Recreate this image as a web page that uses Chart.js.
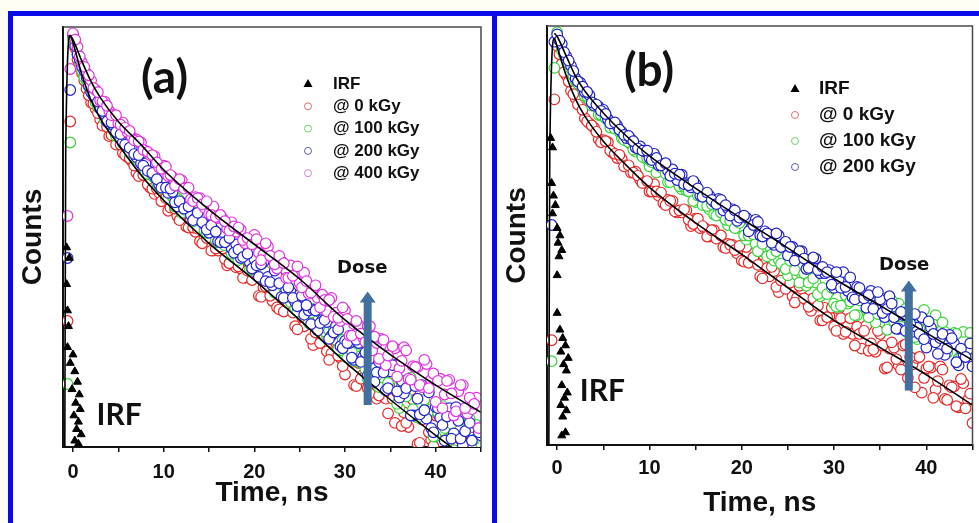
<!DOCTYPE html>
<html>
<head>
<meta charset="utf-8">
<script src="https://cdn.jsdelivr.net/npm/chart.js@4.4.1/dist/chart.umd.min.js"></script>
<style>
  html, body { margin: 0; padding: 0; }
  body { width: 979px; height: 523px; position: relative; overflow: hidden; background: #fffef4; }
  .sheet { position: absolute; left: 13px; top: 16px; right: 0; bottom: 0; background: #fff; }
  .rule { position: absolute; background: #0a0ae6; }
  canvas { position: absolute; }
</style>
</head>
<body>
<div class="sheet"></div>
<div class="rule" style="left:8px;top:11px;width:971px;height:5px"></div>
<div class="rule" style="left:8px;top:11px;width:5px;height:512px"></div>
<div class="rule" style="left:492px;top:11px;width:5px;height:512px"></div>
<canvas id="chartA" width="477" height="507" style="left:14px;top:16px"></canvas>
<canvas id="chartB" width="482" height="507" style="left:497px;top:16px"></canvas>
<script>
// time channels (ns): main channels and the channels in between
const timeNs = [-0.6, -0.3, 0, 0.5, 1, 1.5, 2, 2.5, 3, 3.5, 4, 4.5, 5, 5.5, 6, 6.5, 7, 7.5, 8, 8.5, 9, 9.5,
  10, 10.5, 11, 11.5, 12, 12.5, 13, 13.5, 14, 14.5, 15, 15.5, 16, 16.5, 17, 17.5, 18, 18.5, 19, 19.5,
  20, 20.5, 21, 21.5, 22, 22.5, 23, 23.5, 24, 24.5, 25, 25.5, 26, 26.5, 27, 27.5, 28, 28.5, 29, 29.5,
  30, 30.5, 31, 31.5, 32, 32.5, 33, 33.5, 34, 34.5, 35, 35.5, 36, 36.5, 37, 37.5, 38, 38.5, 39, 39.5,
  40, 40.5, 41, 41.5, 42, 42.5, 43, 43.5, 44, 44.5, 45];
const timeNsMid = [0.25, 0.75, 1.25, 1.75, 2.25, 2.75, 3.25, 3.75, 4.25, 4.75, 5.25, 5.75, 6.25, 6.75, 7.25, 7.75, 8.25, 8.75, 9.25, 9.75,
  10.25, 10.75, 11.25, 11.75, 12.25, 12.75, 13.25, 13.75, 14.25, 14.75, 15.25, 15.75, 16.25, 16.75, 17.25, 17.75, 18.25, 18.75, 19.25, 19.75,
  20.25, 20.75, 21.25, 21.75, 22.25, 22.75, 23.25, 23.75, 24.25, 24.75, 25.25, 25.75, 26.25, 26.75, 27.25, 27.75, 28.25, 28.75, 29.25, 29.75,
  30.25, 30.75, 31.25, 31.75, 32.25, 32.75, 33.25, 33.75, 34.25, 34.75, 35.25, 35.75, 36.25, 36.75, 37.25, 37.75, 38.25, 38.75, 39.25, 39.75,
  40.25, 40.75, 41.25, 41.75, 42.25, 42.75, 43.25, 43.75, 44.25, 44.75];

const timeTicks = [0, 5, 10, 15, 20, 25, 30, 35, 40, 45];
const timeTickLabels = ['0', '', '10', '', '20', '', '30', '', '40', ''];

// panel (a): log10(counts)
const logA0kGy = [1.2, 3.1, 3.91, 3.69, 3.56, 3.41, 3.28, 3.22, 3.12, 3.09, 2.96, 2.96, 2.92, 2.80, 2.76, 2.72, 2.61, 2.60, 2.58, 2.47, 2.41, 2.42,
  2.36, 2.25, 2.33, 2.20, 2.21, 2.10, 2.17, 2.05, 1.96, 2.00, 1.99, 1.87, 1.87, 1.89, 1.73, 1.80, 1.71, 1.70, 1.61, 1.68,
  1.64, 1.44, 1.52, 1.53, 1.39, 1.33, 1.48, 1.31, 1.33, 1.15, 1.29, 1.15, 1.20, 0.97, 1.07, 1.12, 0.91, 0.89, 0.99, 0.85,
  0.69, 0.84, 0.59, 0.80, 0.69, 0.56, 0.76, 0.46, 0.57, 0.46, 0.57, 0.23, 0.60, 0.33, 0.19, 0.45, 0.03, 0.26, 0.28, 0.07,
  0.30, -0.09, 0.07, 0.16, -0.25, 0.03, 0.05, -0.2, 0.09, -0.3, -0.14];
const logA0kGyMid = [3.80, 3.61, 3.49, 3.35, 3.27, 3.18, 3.06, 3.05, 2.97, 2.88, 2.88, 2.78, 2.75, 2.68, 2.58, 2.59, 2.50, 2.46, 2.46, 2.34,
  2.37, 2.28, 2.27, 2.16, 2.23, 2.09, 2.09, 2.08, 1.94, 1.99, 1.87, 1.89, 1.91, 1.79, 1.75, 1.81, 1.72, 1.61, 1.68, 1.59,
  1.65, 1.43, 1.53, 1.44, 1.54, 1.31, 1.29, 1.37, 1.28, 1.12, 1.24, 1.25, 1.03, 1.09, 0.99, 1.06, 0.83, 1.02, 0.87, 0.77,
  0.91, 0.81, 0.58, 0.65, 0.82, 0.51, 0.64, 0.49, 0.64, 0.32, 0.46, 0.52, 0.20, 0.23, 0.54, 0.31, 0.04, 0.34, 0.14, 0.01,
  0.31, 0.16, -0.21, 0.17, -0.07, 0.07, -0.30, -0.09, 0.05, -0.32];
const logA100kGy = [0.6, 2.9, 3.89, 3.74, 3.58, 3.49, 3.38, 3.28, 3.24, 3.12, 3.09, 3.01, 2.98, 2.89, 2.88, 2.80, 2.74, 2.72, 2.62, 2.61, 2.56, 2.49,
  2.50, 2.37, 2.38, 2.37, 2.23, 2.27, 2.25, 2.16, 2.19, 2.06, 2.07, 2.05, 1.95, 2.01, 1.93, 1.84, 1.88, 1.81, 1.83, 1.69,
  1.76, 1.77, 1.60, 1.60, 1.63, 1.46, 1.52, 1.56, 1.38, 1.32, 1.40, 1.32, 1.18, 1.31, 1.16, 1.20, 1.06, 1.18, 1.02, 0.92,
  1.00, 1.03, 0.82, 0.86, 0.96, 0.65, 0.84, 0.68, 0.72, 0.56, 0.78, 0.66, 0.37, 0.53, 0.58, 0.36, 0.28, 0.57, 0.31, 0.36,
  0.10, 0.38, 0.18, 0.31, -0.03, 0.19, 0.30, 0.00, 0.02, 0.21, 0.03];
const logA100kGyMid = [3.83, 3.67, 3.52, 3.43, 3.36, 3.24, 3.19, 3.10, 3.07, 2.96, 2.94, 2.90, 2.80, 2.76, 2.76, 2.68, 2.60, 2.59, 2.52, 2.46,
  2.48, 2.41, 2.29, 2.35, 2.26, 2.27, 2.15, 2.17, 2.17, 2.04, 2.06, 1.97, 2.03, 1.92, 1.94, 1.89, 1.78, 1.84, 1.78, 1.69,
  1.78, 1.64, 1.67, 1.61, 1.47, 1.59, 1.43, 1.43, 1.50, 1.29, 1.38, 1.27, 1.28, 1.15, 1.28, 1.10, 1.11, 1.12, 0.93, 1.02,
  0.85, 0.91, 0.99, 0.80, 0.74, 0.90, 0.77, 0.57, 0.76, 0.61, 0.74, 0.41, 0.59, 0.48, 0.66, 0.30, 0.31, 0.45, 0.34, 0.10,
  0.33, 0.39, 0.07, 0.22, 0.10, 0.26, -0.09, 0.27, 0.07, -0.06];
const logA200kGy = [1.8, 3.4, 3.93, 3.74, 3.62, 3.52, 3.38, 3.32, 3.22, 3.17, 3.08, 3.06, 2.99, 2.90, 2.87, 2.84, 2.76, 2.70, 2.70, 2.62, 2.58, 2.50,
  2.51, 2.42, 2.43, 2.29, 2.32, 2.32, 2.21, 2.18, 2.21, 2.12, 2.04, 2.07, 1.96, 2.02, 1.95, 1.89, 1.93, 1.80, 1.83, 1.76,
  1.79, 1.62, 1.76, 1.62, 1.54, 1.63, 1.43, 1.50, 1.48, 1.38, 1.45, 1.26, 1.30, 1.31, 1.11, 1.21, 1.19, 1.06, 1.15, 0.96,
  1.01, 0.99, 0.83, 0.99, 0.86, 0.68, 0.85, 0.71, 0.81, 0.54, 0.72, 0.78, 0.47, 0.51, 0.62, 0.30, 0.46, 0.59, 0.27, 0.18,
  0.38, 0.28, 0.06, 0.37, 0.13, 0.25, 0.02, 0.32, 0.06, -0.09, 0.11];
const logA200kGyMid = [3.82, 3.69, 3.58, 3.44, 3.35, 3.29, 3.20, 3.10, 3.09, 3.00, 2.98, 2.88, 2.85, 2.79, 2.78, 2.68, 2.63, 2.61, 2.55, 2.47,
  2.47, 2.46, 2.33, 2.34, 2.27, 2.29, 2.16, 2.23, 2.14, 2.07, 2.11, 2.05, 1.95, 1.95, 1.99, 1.85, 1.88, 1.81, 1.84, 1.70,
  1.73, 1.74, 1.58, 1.57, 1.68, 1.56, 1.42, 1.52, 1.42, 1.34, 1.44, 1.35, 1.17, 1.30, 1.18, 1.21, 1.03, 1.09, 1.12, 0.94,
  0.99, 0.85, 1.02, 0.81, 0.90, 0.84, 0.62, 0.81, 0.71, 0.56, 0.78, 0.53, 0.63, 0.56, 0.30, 0.58, 0.31, 0.35, 0.52, 0.14,
  0.37, 0.21, 0.29, 0.08, 0.38, 0.08, 0.15, 0.23, -0.10, 0.14];
const logA400kGy = [2.2, 3.6, 3.94, 3.81, 3.66, 3.56, 3.49, 3.40, 3.30, 3.29, 3.20, 3.16, 3.08, 3.09, 3.00, 2.95, 2.93, 2.90, 2.82, 2.78, 2.77, 2.66,
  2.68, 2.58, 2.57, 2.49, 2.54, 2.47, 2.36, 2.38, 2.37, 2.28, 2.22, 2.29, 2.18, 2.18, 2.08, 2.14, 2.05, 2.07, 1.94, 1.97,
  2.02, 1.85, 1.83, 1.91, 1.80, 1.70, 1.77, 1.61, 1.73, 1.64, 1.56, 1.66, 1.46, 1.51, 1.42, 1.45, 1.29, 1.42, 1.28, 1.20,
  1.30, 1.06, 1.17, 1.16, 1.04, 1.15, 0.92, 0.99, 1.03, 0.78, 0.93, 0.94, 0.75, 0.95, 0.65, 0.77, 0.76, 0.57, 0.79, 0.64,
  0.43, 0.65, 0.50, 0.64, 0.30, 0.53, 0.59, 0.32, 0.36, 0.47, 0.19];
const logA400kGyMid = [3.88, 3.72, 3.62, 3.54, 3.42, 3.38, 3.29, 3.25, 3.16, 3.16, 3.07, 3.04, 3.01, 2.92, 2.91, 2.83, 2.81, 2.78, 2.71, 2.65,
  2.67, 2.59, 2.49, 2.55, 2.46, 2.47, 2.34, 2.37, 2.31, 2.34, 2.21, 2.19, 2.21, 2.15, 2.06, 2.10, 2.09, 1.97, 1.99, 1.93,
  1.98, 1.78, 1.94, 1.82, 1.74, 1.82, 1.75, 1.61, 1.63, 1.72, 1.52, 1.58, 1.47, 1.54, 1.33, 1.40, 1.40, 1.24, 1.23, 1.33,
  1.22, 1.06, 1.20, 1.08, 1.00, 1.15, 1.05, 0.84, 1.02, 0.87, 0.96, 0.67, 0.82, 0.92, 0.64, 0.76, 0.59, 0.83, 0.56, 0.70,
  0.63, 0.37, 0.63, 0.51, 0.34, 0.59, 0.37, 0.47, 0.41, 0.18];

const irfTimeA = [-0.7, -0.7, -0.6, -0.5, -0.6, -0.4, -0.3, 0.2, 0.5, -0.1, 0.7, 0.3, 0.8, 0.1, 0.6, 0.4, 0.9, 0.2, 0.6, 0.0];
const irfLogA = [1.90, 1.55, 1.30, 1.15, 0.95, 1.80, 0.80, 0.72, 0.62, 0.55, 0.50, 0.42, 0.36, 0.30, 0.24, 0.17, 0.12, 0.06, 0.03, 0.88];

const fitTimeA400 = [-0.3, 0, 1, 2, 3, 5, 7.5, 10, 15, 20, 25, 30, 35, 40, 45];
const fitLogA400 = [3.92, 3.88, 3.67, 3.48, 3.33, 3.10, 2.88, 2.64, 2.26, 1.93, 1.60, 1.21, 0.88, 0.59, 0.33];
const fitTimeA0 = [-0.9, -0.8, -0.3, 0, 1, 2, 3, 5, 7.5, 10, 15, 20, 25, 30, 35, 40, 42.5];
const fitLogA0 = [0, 2.83, 3.92, 3.85, 3.54, 3.30, 3.13, 2.88, 2.59, 2.35, 1.94, 1.59, 1.21, 0.81, 0.45, 0.11, -0.05];

// panel (b): log10(counts)
const logB0kGy = [1.0, 3.3, 3.81, 3.64, 3.53, 3.38, 3.31, 3.24, 3.12, 3.07, 3.03, 2.92, 2.91, 2.89, 2.79, 2.74, 2.73, 2.67, 2.60, 2.61, 2.53, 2.51,
  2.42, 2.49, 2.38, 2.31, 2.34, 2.33, 2.22, 2.22, 2.24, 2.09, 2.16, 2.07, 2.07, 1.99, 2.05, 1.99, 1.89, 1.92, 1.91, 1.83,
  1.76, 1.89, 1.75, 1.75, 1.61, 1.73, 1.61, 1.66, 1.46, 1.55, 1.59, 1.42, 1.41, 1.49, 1.38, 1.28, 1.35, 1.19, 1.31, 1.23,
  1.13, 1.30, 1.06, 1.15, 1.06, 1.13, 0.92, 1.14, 0.97, 0.89, 1.06, 0.73, 0.92, 0.93, 0.76, 0.95, 0.64, 0.77, 0.83, 0.50,
  0.73, 0.74, 0.53, 0.75, 0.44, 0.57, 0.56, 0.36, 0.59, 0.43, 0.21];
const logB0kGyMid = [3.73, 3.56, 3.47, 3.35, 3.25, 3.20, 3.09, 3.05, 2.99, 2.89, 2.90, 2.81, 2.78, 2.77, 2.66, 2.67, 2.60, 2.57, 2.50, 2.52,
  2.42, 2.42, 2.41, 2.29, 2.33, 2.23, 2.24, 2.25, 2.15, 2.11, 2.16, 2.09, 1.99, 2.05, 1.97, 2.00, 1.88, 1.91, 1.86, 1.90,
  1.75, 1.74, 1.79, 1.72, 1.59, 1.69, 1.70, 1.51, 1.57, 1.49, 1.55, 1.36, 1.52, 1.40, 1.32, 1.40, 1.33, 1.19, 1.22, 1.31,
  1.09, 1.21, 1.08, 1.21, 0.95, 1.06, 1.09, 0.90, 0.91, 1.09, 0.95, 0.74, 0.98, 0.82, 0.72, 0.96, 0.84, 0.55, 0.84, 0.64,
  0.75, 0.45, 0.61, 0.72, 0.43, 0.55, 0.37, 0.63, 0.35, 0.49];
const logB100kGy = [0.8, 3.6, 3.94, 3.77, 3.68, 3.59, 3.48, 3.44, 3.33, 3.29, 3.26, 3.15, 3.14, 3.10, 3.03, 3.02, 2.93, 2.91, 2.87, 2.80, 2.80, 2.74,
  2.66, 2.70, 2.62, 2.64, 2.51, 2.55, 2.55, 2.44, 2.43, 2.42, 2.32, 2.34, 2.35, 2.25, 2.20, 2.24, 2.18, 2.10, 2.15, 2.07,
  2.08, 1.96, 2.06, 1.92, 1.85, 1.89, 1.90, 1.76, 1.77, 1.80, 1.62, 1.72, 1.62, 1.63, 1.52, 1.61, 1.55, 1.42, 1.47, 1.47,
  1.35, 1.32, 1.49, 1.35, 1.39, 1.24, 1.41, 1.29, 1.37, 1.17, 1.31, 1.40, 1.17, 1.18, 1.35, 1.20, 1.07, 1.23, 1.01, 1.24,
  1.14, 1.04, 1.24, 0.95, 1.08, 0.98, 1.07, 0.83, 1.08, 0.90, 0.82];
const logB100kGyMid = [3.86, 3.72, 3.64, 3.53, 3.45, 3.40, 3.33, 3.24, 3.23, 3.15, 3.12, 3.03, 3.02, 2.99, 2.91, 2.89, 2.82, 2.83, 2.75, 2.74,
  2.70, 2.60, 2.65, 2.59, 2.51, 2.56, 2.47, 2.47, 2.42, 2.33, 2.38, 2.29, 2.28, 2.30, 2.19, 2.22, 2.15, 2.14, 2.07, 2.12,
  2.00, 2.00, 2.01, 1.85, 1.92, 1.80, 1.82, 1.85, 1.73, 1.68, 1.76, 1.67, 1.55, 1.64, 1.55, 1.59, 1.44, 1.50, 1.44, 1.50,
  1.32, 1.33, 1.43, 1.37, 1.24, 1.38, 1.42, 1.22, 1.32, 1.25, 1.37, 1.10, 1.38, 1.23, 1.13, 1.30, 1.22, 1.03, 1.11, 1.29,
  1.01, 1.15, 1.02, 1.17, 0.88, 1.02, 1.06, 0.84, 0.87, 1.07];
const logB200kGy = [2.1, 3.85, 3.92, 3.83, 3.71, 3.62, 3.50, 3.46, 3.37, 3.34, 3.24, 3.23, 3.20, 3.11, 3.07, 3.05, 2.99, 2.93, 2.92, 2.84, 2.85, 2.80,
  2.74, 2.78, 2.67, 2.68, 2.62, 2.63, 2.53, 2.58, 2.50, 2.46, 2.49, 2.38, 2.40, 2.38, 2.32, 2.35, 2.24, 2.26, 2.25, 2.14,
  2.18, 2.17, 2.07, 2.15, 2.00, 2.04, 2.01, 1.91, 2.00, 1.92, 1.81, 1.89, 1.80, 1.85, 1.68, 1.77, 1.78, 1.64, 1.64, 1.67,
  1.50, 1.58, 1.65, 1.47, 1.41, 1.51, 1.44, 1.31, 1.47, 1.33, 1.39, 1.22, 1.42, 1.22, 1.11, 1.24, 1.27, 1.08, 1.12, 1.22,
  0.93, 1.12, 0.98, 1.02, 0.86, 1.05, 0.97, 0.76, 0.87, 0.91, 0.75];
const logB200kGyMid = [3.86, 3.75, 3.67, 3.57, 3.47, 3.42, 3.37, 3.27, 3.25, 3.19, 3.16, 3.07, 3.08, 3.01, 2.96, 2.95, 2.90, 2.83, 2.81, 2.81,
  2.72, 2.74, 2.67, 2.69, 2.57, 2.59, 2.58, 2.49, 2.48, 2.52, 2.45, 2.37, 2.41, 2.34, 2.30, 2.34, 2.29, 2.19, 2.24, 2.17,
  2.19, 2.04, 2.10, 2.13, 1.99, 2.02, 1.93, 2.02, 1.89, 1.94, 1.89, 1.76, 1.85, 1.78, 1.69, 1.79, 1.67, 1.70, 1.65, 1.53,
  1.65, 1.50, 1.51, 1.60, 1.39, 1.50, 1.40, 1.43, 1.30, 1.46, 1.26, 1.30, 1.35, 1.11, 1.27, 1.09, 1.16, 1.25, 1.06, 1.01,
  1.18, 1.06, 0.87, 1.06, 0.92, 1.02, 0.79, 0.92, 0.84, 0.97];

const irfTimeB = [-0.7, -0.5, -0.6, -0.4, -0.2, -0.5, 0.0, 0.3, 0.1, 0.5, 0.2, 0.0, 0.0, 0.3, 0.6, 0.9, 0.4, 1.2, 0.7, 1.0, 0.5, 1.1, 0.8, 0.4, 1.0, 0.6, 0.9, 0.5];
const irfLogB = [2.93, 2.84, 2.50, 2.38, 2.29, 2.21, 2.07, 2.00, 1.93, 1.86, 1.80, 1.62, 1.26, 1.10, 1.02, 0.95, 0.89, 0.83, 0.77, 0.71, 0.57, 0.50, 0.45, 0.38, 0.33, 0.27, 0.12, 0.09];

const fitTimeB200 = [-0.3, 0, 1, 2, 3, 5, 7.5, 10, 15, 20, 25, 30, 35, 40, 45];
const fitLogB200 = [3.93, 3.90, 3.71, 3.52, 3.38, 3.17, 2.95, 2.76, 2.45, 2.16, 1.88, 1.59, 1.33, 1.07, 0.81];
const fitTimeB0 = [-0.9, -0.8, -0.3, 0, 1, 2, 3, 5, 7.5, 10, 15, 20, 25, 30, 35, 40, 45];
const fitLogB0 = [0, 2.8, 3.88, 3.80, 3.52, 3.30, 3.14, 2.90, 2.67, 2.46, 2.12, 1.82, 1.50, 1.19, 0.93, 0.67, 0.38];

const legendA = ['IRF', '@ 0 kGy', '@ 100 kGy', '@ 200 kGy', '@ 400 kGy'];
const legendB = ['IRF', '@ 0 kGy', '@ 100 kGy', '@ 200 kGy'];

Chart.defaults.font.family = '"Liberation Sans", Arial, sans-serif';
Chart.defaults.color = '#111';

function points(times, logs) {
  return logs.map((v, i) => ({ x: times[i], y: 10 ** v }));
}

function fitLine(label, times, logs) {
  return {
    type: 'line', label: label, data: points(times, logs), showLine: true,
    borderColor: '#000', borderWidth: 1.6, pointRadius: 0, fill: false,
    cubicInterpolationMode: 'monotone'
  };
}

function circles(label, logs, logsMid, color, legendColor) {
  return {
    label: label, data: points(timeNs, logs).concat(points(timeNsMid, logsMid)),
    pointStyle: 'circle', pointRadius: 5.3, borderWidth: 1.2,
    borderColor: color, backgroundColor: '#fff', legendColor: legendColor
  };
}

function irf(times, logs) {
  return {
    label: 'IRF', data: points(times, logs), pointStyle: 'triangle', pointRadius: 4.6,
    borderWidth: 1, borderColor: '#000', backgroundColor: '#000'
  };
}

// plot box, panel letter, IRF text, dose arrow and the legend
const panelNotes = {
  id: 'panelNotes',
  afterDraw(chart, args, o) {
    const { ctx, chartArea: area, scales } = chart;
    const px = t => scales.x.getPixelForValue(t);
    const py = d => scales.y.getPixelForValue(10 ** d);
    ctx.save();

    ctx.strokeStyle = '#4a4a4a';
    ctx.lineWidth = 1.5;
    ctx.beginPath();
    ctx.moveTo(area.left, area.top);
    ctx.lineTo(area.right, area.top);
    ctx.lineTo(area.right, area.bottom);
    ctx.stroke();

    ctx.fillStyle = '#111';
    ctx.textBaseline = 'middle';
    ctx.textAlign = 'center';
    ctx.font = 'bold 46px Lato';
    ctx.fillText(o.letter, px(o.letterAt[0]), py(o.letterAt[1]));

    ctx.textAlign = 'left';
    ctx.font = 'bold 30px Lato';
    ctx.fillText('IRF', px(o.irfAt[0]), py(o.irfAt[1]));

    // arrow
    const ax = px(o.arrow[0]), y0 = py(o.arrow[1]), y1 = py(o.arrow[2]);
    ctx.fillStyle = '#41709f';
    ctx.fillRect(ax - 4, y1 + 10, 8, y0 - y1 - 10);
    ctx.beginPath();
    ctx.moveTo(ax - 8, y1 + 11);
    ctx.lineTo(ax, y1);
    ctx.lineTo(ax + 8, y1 + 11);
    ctx.closePath();
    ctx.fill();

    ctx.fillStyle = '#111';
    ctx.textAlign = 'center';
    ctx.font = 'bold 18px "DejaVu Sans"';
    ctx.fillText('Dose', px(o.doseAt[0]), py(o.doseAt[1]));

    // legend
    const lg = o.legend;
    ctx.font = 'bold ' + lg.size + 'px "Liberation Sans"';
    ctx.textAlign = 'left';
    lg.labels.forEach((label, i) => {
      const ds = chart.data.datasets.find(d => d.label === label);
      const sx = area.left + lg.symbolX;
      const sy = area.top + lg.top + i * lg.step;
      if (ds.pointStyle === 'triangle') {
        ctx.fillStyle = '#000';
        ctx.beginPath();
        ctx.moveTo(sx, sy - 5);
        ctx.lineTo(sx + 4.5, sy + 3);
        ctx.lineTo(sx - 4.5, sy + 3);
        ctx.closePath();
        ctx.fill();
      } else {
        ctx.strokeStyle = ds.legendColor;
        ctx.lineWidth = 1;
        ctx.beginPath();
        ctx.arc(sx, sy, 3.5, 0, Math.PI * 2);
        ctx.stroke();
      }
      ctx.fillStyle = '#111';
      ctx.fillText(label, area.left + lg.textX, sy);
    });
    ctx.restore();
  }
};

function makePanel(id, datasets, lay, notes) {
  return new Chart(document.getElementById(id), {
    type: 'scatter',
    data: { datasets: datasets },
    plugins: [panelNotes],
    options: {
      responsive: false,
      animation: false,
      events: [],
      layout: { padding: { top: lay.top, right: lay.right, left: 0, bottom: 0 } },
      plugins: { legend: { display: false }, tooltip: { enabled: false }, panelNotes: notes },
      scales: {
        x: {
          type: 'linear', min: -1.1, max: 45,
          afterBuildTicks: s => { s.ticks = timeTicks.map(v => ({ value: v })); },
          afterFit: s => { s.height = lay.xHeight; },
          ticks: {
            autoSkip: false, maxRotation: 0, padding: lay.tickPad,
            font: { size: 20, weight: 'bold' }, color: '#111',
            callback: (v, i) => timeTickLabels[i]
          },
          grid: { drawOnChartArea: false, tickLength: 5, color: '#111', lineWidth: 1.5 },
          border: { color: '#111', width: 2 },
          title: { display: true, text: 'Time, ns', font: { size: 28, weight: 'bold' }, color: '#111', padding: { top: 0, bottom: lay.xTitlePad } }
        },
        y: {
          type: 'logarithmic', min: 1, max: 10000,
          afterFit: s => { s.width = lay.yWidth; },
          ticks: { display: false },
          grid: { display: false },
          border: { color: '#111', width: 2 },
          title: { display: true, text: 'Counts', font: { size: 28, weight: 'bold' }, color: '#111', padding: { top: lay.yTitlePad, bottom: 0 } }
        }
      }
    }
  });
}

makePanel('chartA', [
  fitLine('fit 400 kGy', fitTimeA400, fitLogA400),
  fitLine('fit 0 kGy', fitTimeA0, fitLogA0),
  irf(irfTimeA, irfLogA),
  circles('@ 400 kGy', logA400kGy, logA400kGyMid, '#e030e0', '#e07ae0'),
  circles('@ 200 kGy', logA200kGy, logA200kGyMid, '#2424d0', '#5a5ab8'),
  circles('@ 100 kGy', logA100kGy, logA100kGyMid, '#38d438', '#70d070'),
  circles('@ 0 kGy', logA0kGy, logA0kGyMid, '#e62a2a', '#e06a6a')
], { top: 11, right: 10, xHeight: 76, yWidth: 49, tickPad: 8, xTitlePad: 13, yTitlePad: 2 }, {
  letter: '(a)', letterAt: [10.1, 3.51], irfAt: [2.6, 0.30],
  doseAt: [31.9, 1.70], arrow: [32.5, 0.40, 1.48],
  legend: { labels: legendA, symbolX: 245, textX: 270, top: 57, step: 22.3, size: 17 }
});

makePanel('chartB', [
  fitLine('fit 200 kGy', fitTimeB200, fitLogB200),
  fitLine('fit 0 kGy', fitTimeB0, fitLogB0),
  irf(irfTimeB, irfLogB),
  circles('@ 200 kGy', logB200kGy, logB200kGyMid, '#2020c8', '#5a5ab8'),
  circles('@ 100 kGy', logB100kGy, logB100kGyMid, '#38d438', '#70d070'),
  circles('@ 0 kGy', logB0kGy, logB0kGyMid, '#e62a2a', '#e06a6a')
], { top: 10, right: 2, xHeight: 78, yWidth: 50, tickPad: 6, xTitlePad: 3, yTitlePad: 3 }, {
  letter: '(b)', letterAt: [9.95, 3.57], irfAt: [2.46, 0.51],
  doseAt: [37.6, 1.72], arrow: [38.1, 0.52, 1.57],
  legend: { labels: legendB, symbolX: 248, textX: 272, top: 63, step: 26, size: 19 }
});
</script>
</body>
</html>
